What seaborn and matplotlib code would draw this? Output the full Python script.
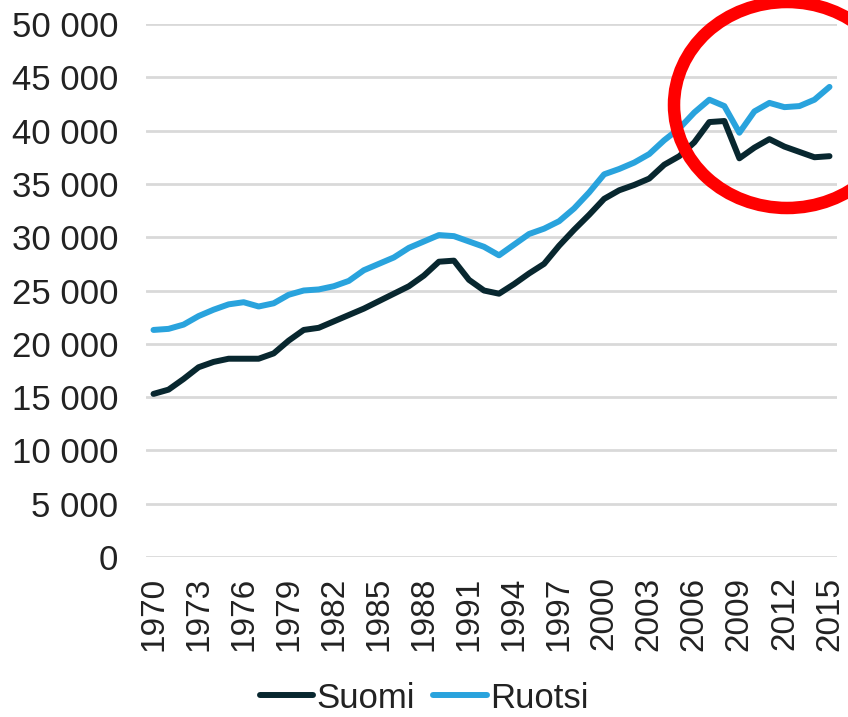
import numpy as np
import pandas as pd
import matplotlib
matplotlib.use("Agg")
import matplotlib.pyplot as plt
import matplotlib.ticker as mtick
from matplotlib.patches import Ellipse
import seaborn as sns

# colours
DARK_TEAL = "#08272f"
LIGHT_BLUE = "#29a3dd"
GRID_GRAY = "#d9d9d9"
CIRCLE_RED = "#ff0000"
TEXT_COLOR = "#222222"

# data
years = list(range(1970, 2016))
suomi = [15300, 15700, 16700, 17800, 18300, 18600, 18600, 18600, 19100, 20300,
         21300, 21500, 22100, 22700, 23300, 24000, 24700, 25400, 26400, 27700,
         27800, 26000, 25000, 24700, 25600, 26600, 27500, 29200, 30700, 32100,
         33600, 34400, 34900, 35500, 36800, 37600, 38900, 40800, 40900, 37400,
         38400, 39200, 38500, 38000, 37500, 37600]
ruotsi = [21300, 21400, 21800, 22600, 23200, 23700, 23900, 23500, 23800, 24600,
          25000, 25100, 25400, 25900, 26900, 27500, 28100, 29000, 29600, 30200,
          30100, 29600, 29100, 28300, 29300, 30300, 30800, 31500, 32700, 34200,
          35900, 36400, 37000, 37800, 39100, 40200, 41700, 42900, 42300, 39800,
          41800, 42600, 42200, 42300, 42900, 44100]
series_names = ["Suomi", "Ruotsi"]
x_ticks = list(range(1970, 2016, 3))
y_ticks = list(range(0, 50001, 5000))

df = pd.DataFrame({
    "year": years * 2,
    "value": suomi + ruotsi,
    "maa": ["Suomi"] * len(years) + ["Ruotsi"] * len(years),
})

sns.set_style("white")
plt.rcParams["font.family"] = ["Liberation Sans", "DejaVu Sans"]

fig = plt.figure(figsize=(8.48, 7.17), dpi=100)
ax = fig.add_axes([146 / 848, 1 - 557 / 717, (837 - 146) / 848, (557 - 24) / 717])

sns.lineplot(data=df, x="year", y="value", hue="maa", hue_order=series_names,
             palette=[DARK_TEAL, LIGHT_BLUE], linewidth=4.3, ax=ax, legend=False)

ax.set_xlim(1969.5, 2015.5)
ax.set_ylim(0, 50000)
ax.set_xticks(x_ticks)
ax.set_yticks(y_ticks)
ax.yaxis.set_major_formatter(mtick.FuncFormatter(lambda v, p: f"{int(v):,}".replace(",", " ")))
ax.tick_params(axis="x", rotation=90, labelsize=24, length=0, pad=14, colors=TEXT_COLOR)
ax.tick_params(axis="y", labelsize=25, length=0, pad=20, colors=TEXT_COLOR)
ax.set_xlabel("")
ax.set_ylabel("")
ax.grid(axis="y", color=GRID_GRAY, linewidth=2)
ax.set_axisbelow(True)
for s in ax.spines.values():
    s.set_visible(False)

# legend
handles = [plt.Line2D([], [], color=c, linewidth=4.3) for c in [DARK_TEAL, LIGHT_BLUE]]
fig.legend(handles, series_names, loc="center", bbox_to_anchor=(0.5, 1 - 698 / 717),
           ncol=2, frameon=False, fontsize=25, handlelength=1.55, handletextpad=0.1,
           columnspacing=0.5, labelcolor=TEXT_COLOR)

# red circle highlight
circle = Ellipse((787 / 848, 1 - 105 / 717), width=226 / 848, height=206 / 717,
                 transform=fig.transFigure, fill=False, edgecolor=CIRCLE_RED,
                 linewidth=9, clip_on=False)
fig.add_artist(circle)

fig.savefig("out.png", dpi=100)
